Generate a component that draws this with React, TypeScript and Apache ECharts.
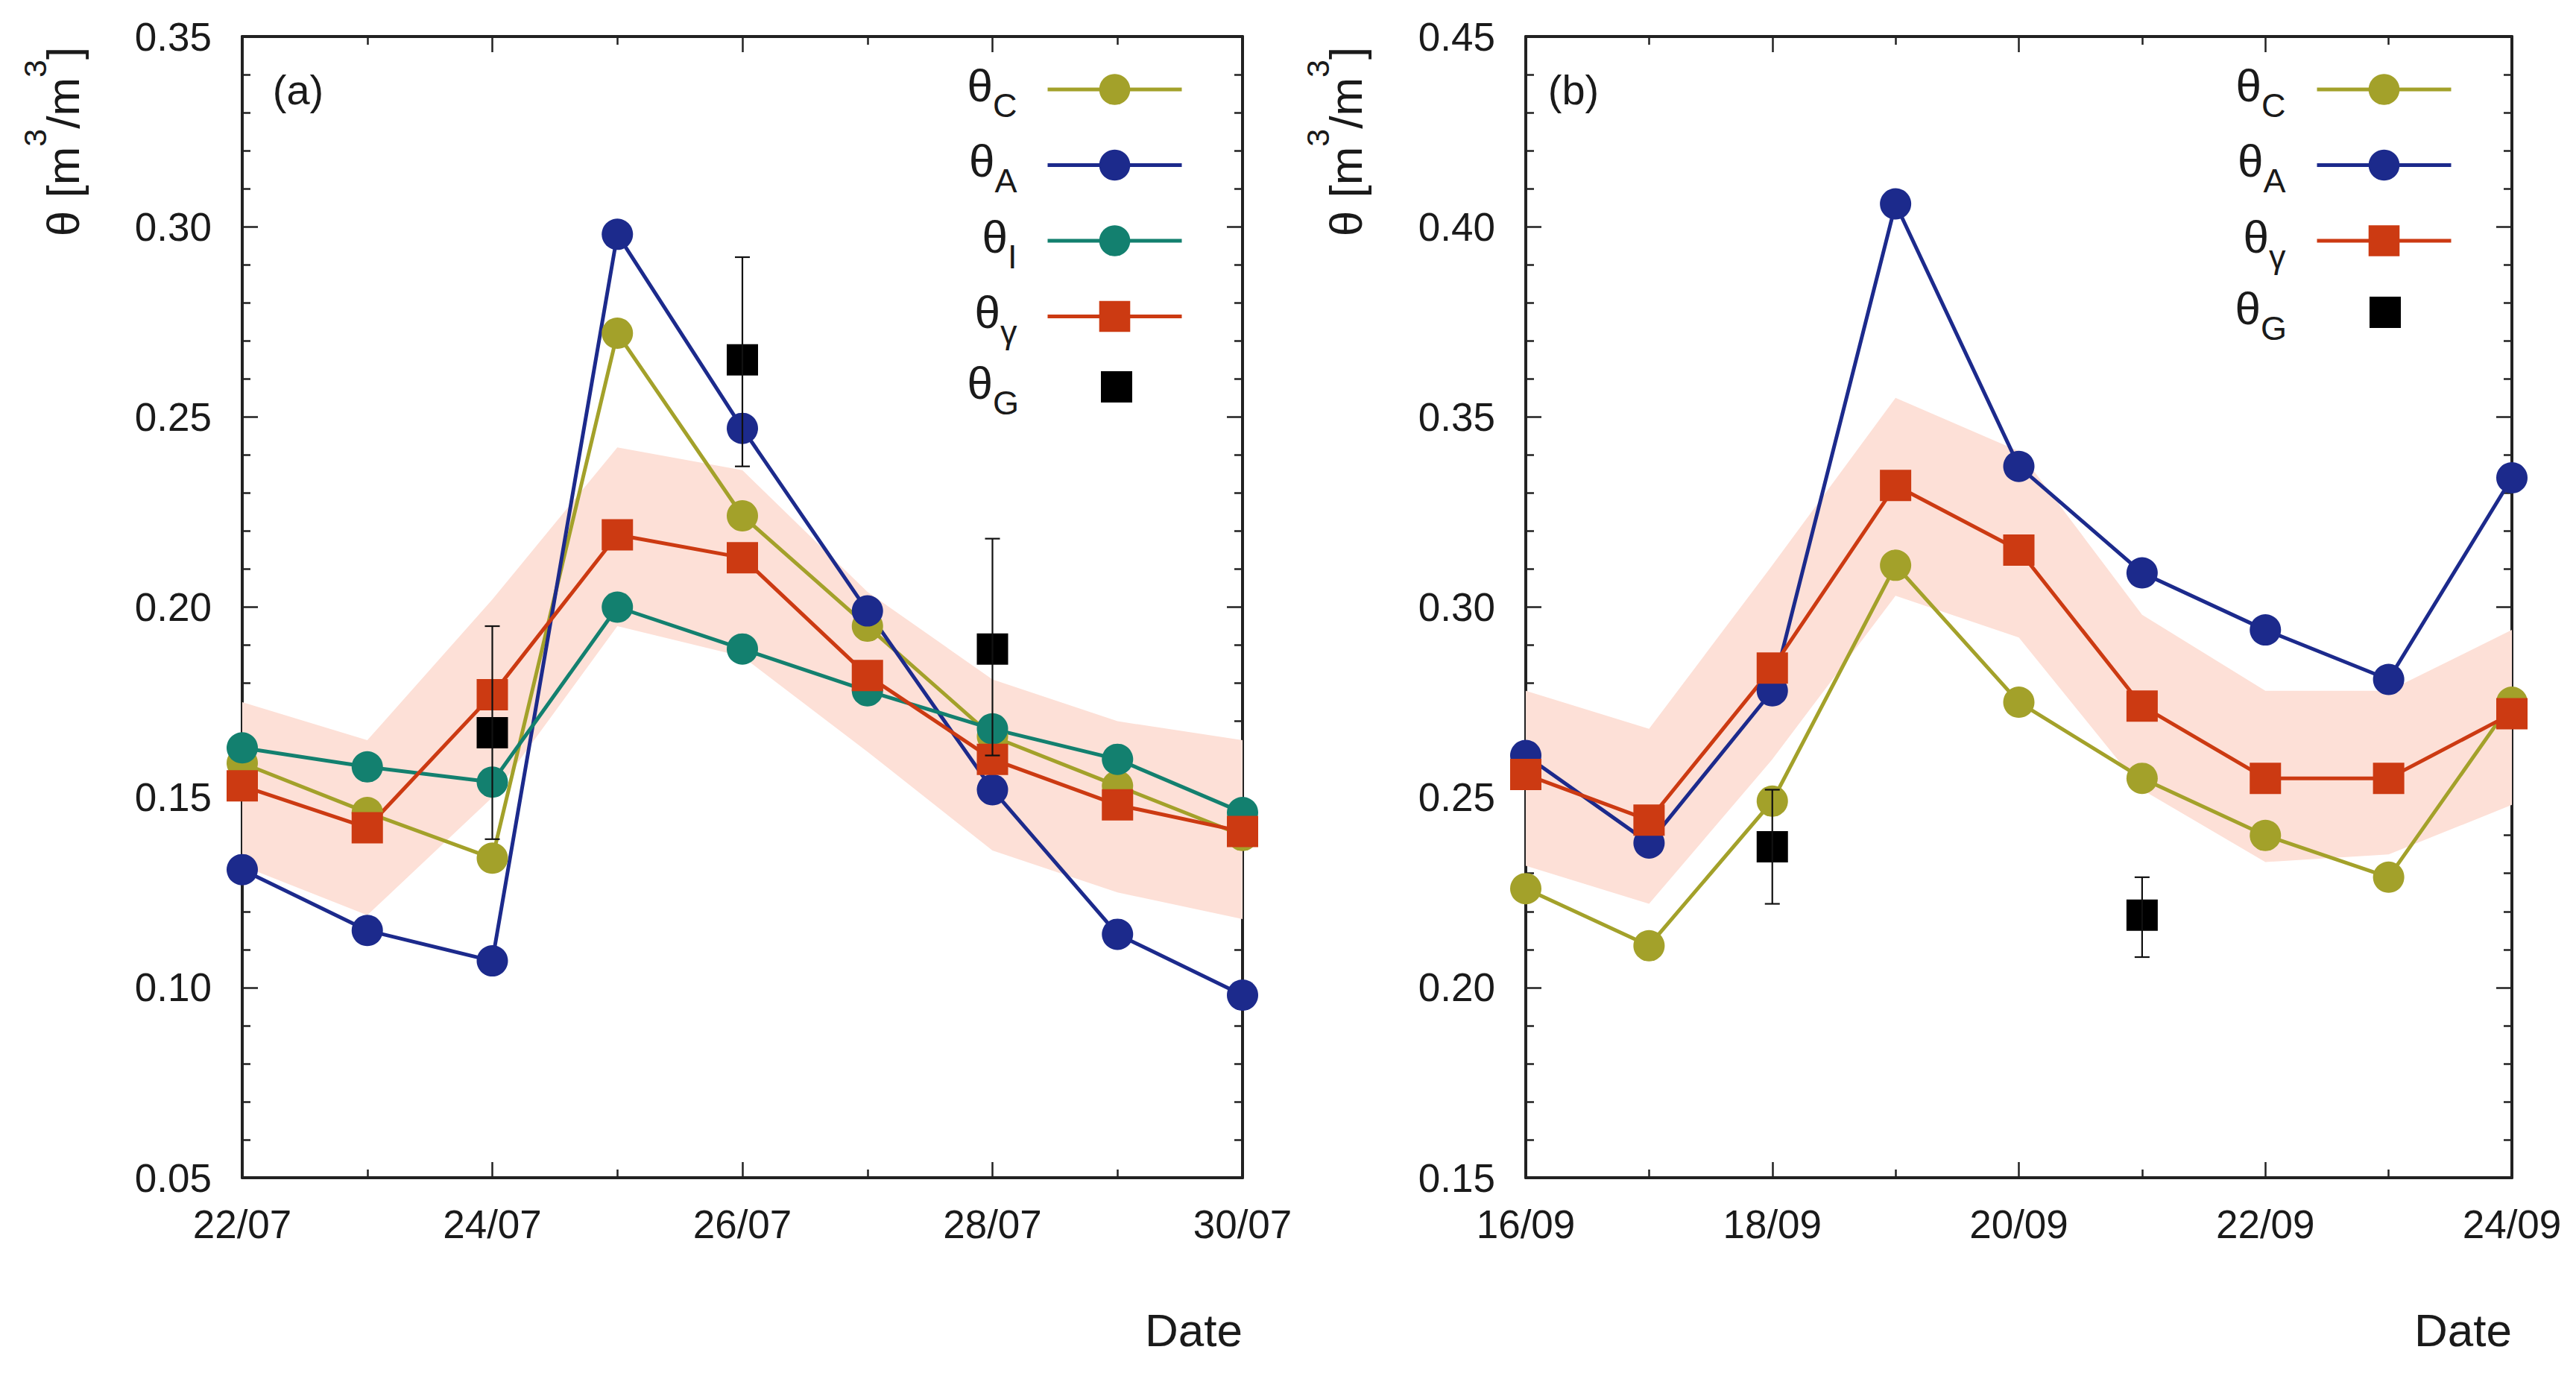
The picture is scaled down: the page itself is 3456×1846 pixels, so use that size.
import React, { useEffect, useRef } from 'react';
import * as echarts from 'echarts';

// ---------- data ----------
const datesA = ['22/07', '23/07', '24/07', '25/07', '26/07', '27/07', '28/07', '29/07', '30/07'];
const datesB = ['16/09', '17/09', '18/09', '19/09', '20/09', '21/09', '22/09', '23/09', '24/09'];

const thetaC_A = [0.159, 0.146, 0.134, 0.272, 0.224, 0.195, 0.166, 0.153, 0.140];
const thetaA_A = [0.131, 0.115, 0.107, 0.298, 0.247, 0.199, 0.152, 0.114, 0.098];
const thetaI_A = [0.163, 0.158, 0.154, 0.200, 0.189, 0.178, 0.168, 0.160, 0.146];
const thetaGamma_A = [0.153, 0.142, 0.177, 0.219, 0.213, 0.182, 0.160, 0.148, 0.141];
const bandLow_A = [0.132, 0.119, 0.150, 0.195, 0.187, 0.162, 0.136, 0.125, 0.118];
const bandHigh_A = [0.175, 0.165, 0.202, 0.242, 0.236, 0.204, 0.181, 0.170, 0.165];
const gaugeDay_A = [2, 4, 6];
const gauge_A = [0.167, 0.265, 0.189];
const gaugeLow_A = [0.139, 0.237, 0.161];
const gaugeHigh_A = [0.195, 0.292, 0.218];

const thetaC_B = [0.226, 0.211, 0.249, 0.311, 0.275, 0.255, 0.240, 0.229, 0.275];
const thetaA_B = [0.261, 0.238, 0.278, 0.406, 0.337, 0.309, 0.294, 0.281, 0.334];
const thetaGamma_B = [0.256, 0.244, 0.284, 0.332, 0.315, 0.274, 0.255, 0.255, 0.272];
const bandLow_B = [0.232, 0.222, 0.260, 0.303, 0.292, 0.252, 0.233, 0.235, 0.248];
const bandHigh_B = [0.278, 0.268, 0.311, 0.355, 0.341, 0.298, 0.278, 0.278, 0.294];
const gaugeDay_B = [2, 5];
const gauge_B = [0.237, 0.219];
const gaugeLow_B = [0.222, 0.208];
const gaugeHigh_B = [0.252, 0.229];

const yRangeA = [0.05, 0.35];
const yRangeB = [0.15, 0.45];
const yStep = 0.05;

// ---------- styles ----------
const FONT = 'Liberation Sans';
const INK = '#1a1a1a';
const AXIS = '#222222';
const OLIVE = '#a3a12a';
const NAVY = '#1c2a8c';
const TEAL = '#13806f';
const RED = '#cc3a12';
const BAND = '#fde0d7';

const W = 3456;
const H = 1846;

const legendSub: Record<string, string> = {
  C_a: 'C', A_a: 'A', I_a: 'I', g_a: 'γ', G_a: 'G',
  C_b: 'C', A_b: 'A', g_b: 'γ', G_b: 'G',
};

function xAxis(gridIndex: number, labels: string[], position: 'bottom' | 'top') {
  return {
    type: 'value',
    gridIndex,
    position,
    min: 0,
    max: labels.length - 1,
    interval: 2,
    axisLine: { show: true, onZero: false, lineStyle: { color: AXIS, width: 4 } },
    axisTick: { show: true, inside: true, length: 21, lineStyle: { color: AXIS, width: 2.5 } },
    minorTick: { show: true, splitNumber: 2, length: 11, lineStyle: { color: AXIS, width: 2.5 } },
    axisLabel: {
      show: position === 'bottom',
      margin: 36,
      fontSize: 53,
      fontFamily: FONT,
      color: INK,
      formatter: (v: number) => labels[Math.round(v)] ?? '',
    },
    splitLine: { show: false },
    minorSplitLine: { show: false },
  };
}

function yAxis(gridIndex: number, range: number[], position: 'left' | 'right') {
  return {
    type: 'value',
    gridIndex,
    position,
    min: range[0],
    max: range[1],
    interval: yStep,
    axisLine: { show: true, onZero: false, lineStyle: { color: AXIS, width: 4 } },
    axisTick: { show: true, inside: true, length: 21, lineStyle: { color: AXIS, width: 2.5 } },
    minorTick: { show: true, splitNumber: 5, length: 11, lineStyle: { color: AXIS, width: 2.5 } },
    axisLabel: {
      show: position === 'left',
      margin: 41,
      fontSize: 53,
      fontFamily: FONT,
      color: INK,
      formatter: (v: number) => v.toFixed(2),
    },
    splitLine: { show: false },
    minorSplitLine: { show: false },
  };
}

function lineSeries(name: string, values: number[], color: string, symbol: string, panel: number) {
  return {
    type: 'line',
    name,
    xAxisIndex: panel * 2,
    yAxisIndex: panel * 2,
    data: values.map((v, i) => [i, v]),
    symbol,
    symbolSize: 42,
    lineStyle: { color, width: 5 },
    itemStyle: { color, opacity: 1 },
    emphasis: { disabled: true },
    z: 3,
  };
}

function bandSeries(lo: number[], hi: number[], panel: number) {
  return {
    type: 'custom',
    name: 'band' + panel,
    xAxisIndex: panel * 2,
    yAxisIndex: panel * 2,
    silent: true,
    data: lo.map((v, i) => [i, v, hi[i]]),
    renderItem: (params: any, api: any) => {
      if (params.dataIndex !== 0) return null;
      const pts: number[][] = [];
      for (let i = 0; i < hi.length; i++) pts.push(api.coord([i, hi[i]]));
      for (let i = lo.length - 1; i >= 0; i--) pts.push(api.coord([i, lo[i]]));
      return { type: 'polygon', shape: { points: pts }, style: { fill: BAND } };
    },
    z: 1,
  };
}

function gaugeScatter(name: string, days: number[], vals: number[], panel: number) {
  return {
    type: 'scatter',
    name,
    xAxisIndex: panel * 2,
    yAxisIndex: panel * 2,
    data: days.map((d, k) => [d, vals[k]]),
    symbol: 'rect',
    symbolSize: 42,
    itemStyle: { color: '#000000', opacity: 1 },
    emphasis: { disabled: true },
    z: 4,
  };
}

function errorBars(days: number[], vals: number[], lo: number[], hi: number[], panel: number) {
  return {
    type: 'custom',
    name: 'err' + panel,
    xAxisIndex: panel * 2,
    yAxisIndex: panel * 2,
    silent: true,
    data: days.map((d, k) => [d, vals[k], lo[k], hi[k]]),
    renderItem: (params: any, api: any) => {
      const x = api.value(0);
      const top = api.coord([x, api.value(3)]);
      const bot = api.coord([x, api.value(2)]);
      const cap = 10;
      const st = { stroke: '#111111', lineWidth: 2.2 };
      return {
        type: 'group',
        children: [
          { type: 'line', shape: { x1: top[0], y1: top[1], x2: bot[0], y2: bot[1] }, style: st },
          { type: 'line', shape: { x1: top[0] - cap, y1: top[1], x2: top[0] + cap, y2: top[1] }, style: st },
          { type: 'line', shape: { x1: bot[0] - cap, y1: bot[1], x2: bot[0] + cap, y2: bot[1] }, style: st },
        ],
      };
    },
    z: 5,
  };
}

function legendRich(gap: number) {
  return {
    t: { fontSize: 62, fontFamily: FONT, color: INK, height: 60, lineHeight: 60, verticalAlign: 'top' },
    s: { fontSize: 45, fontFamily: FONT, color: INK, height: 30, lineHeight: 30, verticalAlign: 'bottom' },
    g: { fontSize: 10, width: gap, height: 72, lineHeight: 72 },
  };
}

function legend(names: string[], right: number, top: number, isLine: boolean, gap: number) {
  return {
    orient: 'vertical',
    align: 'right',
    right,
    top,
    padding: 0,
    itemGap: 21,
    itemWidth: isLine ? 180 : 42,
    itemHeight: isLine ? 52 : 42,
    selectedMode: false,
    data: names.map((n) => (isLine ? { name: n } : { name: n, icon: 'rect' })),
    formatter: (n: string) => `{t|θ}{s|${legendSub[n]}}{g| }`,
    textStyle: { rich: legendRich(gap) },
    lineStyle: { width: 5 },
    itemStyle: { borderWidth: 0 },
  };
}

function yTitle(x: number, y: number) {
  return {
    type: 'text',
    x,
    y,
    rotation: Math.PI / 2,
    style: {
      text: '{t|θ [m}{p|3}{t|/m}{p|3}{t|]}',
      align: 'center',
      verticalAlign: 'middle',
      rich: {
        t: { fontSize: 62, fontFamily: FONT, fill: INK, height: 94, lineHeight: 94, verticalAlign: 'middle' },
        p: { fontSize: 43, fontFamily: FONT, fill: INK, height: 20, lineHeight: 20, verticalAlign: 'top' },
      },
    },
  };
}

function plainText(text: string, x: number, y: number, size: number, align: string) {
  return {
    type: 'text',
    x,
    y,
    style: { text, fontSize: size, fontFamily: FONT, fill: INK, align, verticalAlign: 'middle' },
  };
}

export default function App() {
  const ref = useRef<HTMLDivElement>(null);

  useEffect(() => {
    document.body.style.margin = '0';
    document.body.style.overflow = 'hidden';
    if (!ref.current) return;
    const chart = echarts.init(ref.current, undefined, { renderer: 'svg' });

    const gridA = { left: 325, top: 49, width: 1342, height: 1531 };
    const gridB = { left: 2047, top: 49, width: 1323, height: 1531 };

    chart.setOption({
      animation: false,
      backgroundColor: '#ffffff',
      grid: [
        { ...gridA, containLabel: false },
        { ...gridB, containLabel: false },
      ],
      xAxis: [
        xAxis(0, datesA, 'bottom'),
        xAxis(0, datesA, 'top'),
        xAxis(1, datesB, 'bottom'),
        xAxis(1, datesB, 'top'),
      ],
      yAxis: [
        yAxis(0, yRangeA, 'left'),
        yAxis(0, yRangeA, 'right'),
        yAxis(1, yRangeB, 'left'),
        yAxis(1, yRangeB, 'right'),
      ],
      legend: [
        legend(['C_a', 'A_a', 'I_a', 'g_a'], W - 1588, 83, true, 36),
        legend(['G_a'], W - 1519, 482, false, 105),
        legend(['C_b', 'A_b', 'g_b'], W - 3291, 83, true, 37),
        legend(['G_b'], W - 3221, 382, false, 106),
      ],
      series: [
        bandSeries(bandLow_A, bandHigh_A, 0),
        lineSeries('C_a', thetaC_A, OLIVE, 'circle', 0),
        lineSeries('A_a', thetaA_A, NAVY, 'circle', 0),
        lineSeries('I_a', thetaI_A, TEAL, 'circle', 0),
        lineSeries('g_a', thetaGamma_A, RED, 'rect', 0),
        gaugeScatter('G_a', gaugeDay_A, gauge_A, 0),
        errorBars(gaugeDay_A, gauge_A, gaugeLow_A, gaugeHigh_A, 0),

        bandSeries(bandLow_B, bandHigh_B, 1),
        lineSeries('C_b', thetaC_B, OLIVE, 'circle', 1),
        lineSeries('A_b', thetaA_B, NAVY, 'circle', 1),
        lineSeries('g_b', thetaGamma_B, RED, 'rect', 1),
        gaugeScatter('G_b', gaugeDay_B, gauge_B, 1),
        errorBars(gaugeDay_B, gauge_B, gaugeLow_B, gaugeHigh_B, 1),
      ],
      graphic: [
        yTitle(84, 190),
        yTitle(1805, 190),
        plainText('(a)', 400, 120, 56, 'center'),
        plainText('(b)', 2111, 120, 56, 'center'),
        plainText('Date', 1667, 1784, 62, 'right'),
        plainText('Date', 3370, 1784, 62, 'right'),
      ],
    });

    return () => {
      chart.dispose();
    };
  }, []);

  return <div ref={ref} style={{ width: W, height: H }} />;
}
